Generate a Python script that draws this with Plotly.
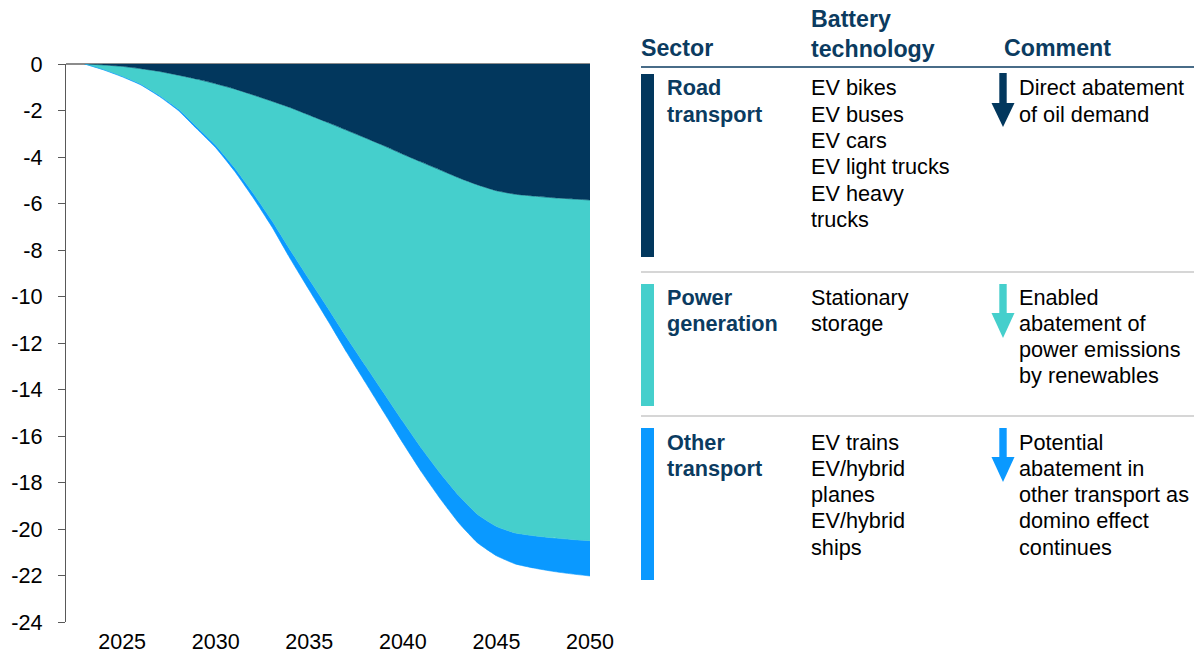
import plotly.graph_objects as go

# ---------------- data ----------------
years = list(range(2023, 2051))
road_transport = [0, -0.04, -0.10, -0.20, -0.32, -0.48, -0.65, -0.85, -1.07, -1.33,
                  -1.60, -1.88, -2.20, -2.52, -2.85, -3.18, -3.52, -3.88, -4.22, -4.56,
                  -4.90, -5.20, -5.45, -5.60, -5.68, -5.75, -5.80, -5.85]
power_generation = [0, -0.20, -0.43, -0.67, -1.03, -1.45, -2.06, -2.64, -3.38, -4.22,
                    -5.13, -6.14, -7.07, -7.98, -8.91, -9.79, -10.65, -11.49, -12.31, -13.04,
                    -13.67, -14.18, -14.44, -14.57, -14.61, -14.63, -14.65, -14.65]
other_transport = [0, -0.01, -0.02, -0.03, -0.05, -0.07, -0.09, -0.11, -0.15, -0.20,
                   -0.27, -0.38, -0.46, -0.55, -0.64, -0.73, -0.83, -0.93, -1.02, -1.10,
                   -1.18, -1.22, -1.26, -1.33, -1.39, -1.44, -1.48, -1.52]
x_ticks = [2025, 2030, 2035, 2040, 2045, 2050]
y_ticks = list(range(-24, 1, 2))
y_tick_labels = [str(v) for v in y_ticks]

headers = ["Sector", "Battery<br>technology", "Comment"]
sectors = ["Road<br>transport", "Power<br>generation", "Other<br>transport"]
technologies = [["EV bikes", "EV buses", "EV cars", "EV light trucks", "EV heavy", "trucks"],
                ["Stationary", "storage"],
                ["EV trains", "EV/hybrid", "planes", "EV/hybrid", "ships"]]
comments = [["Direct abatement", "of oil demand"],
            ["Enabled", "abatement of", "power emissions", "by renewables"],
            ["Potential", "abatement in", "other transport as", "domino effect", "continues"]]

NAVY = "#02375D"
TURQ = "#45CFCC"
BLUE = "#0A99FF"
HEAD = "#0B3B60"
colors = [NAVY, TURQ, BLUE]

# ---------------- figure ----------------
W, H = 1194, 654
L, R, T, B = 66, 590, 64, 622

fig = go.Figure()
for name, vals, col in [("Road transport", road_transport, NAVY),
                        ("Power generation", power_generation, TURQ),
                        ("Other transport", other_transport, BLUE)]:
    fig.add_trace(go.Scatter(x=years, y=vals, name=name, stackgroup="one",
                             mode="lines", line=dict(width=0.6, color=col, shape="spline", smoothing=0.4),
                             fillcolor=col, hoverinfo="x+y+name"))


def px(x, y):
    return (x - L) / (R - L), (B - y) / (B - T)


anns = []
shapes = []
FONT = "Liberation Sans, Arial, sans-serif"


def text(x, y, s, bold=False, color="black", size=21.7):
    xx, yy = px(x, y)
    anns.append(dict(x=xx, y=yy, xref="paper", yref="paper", text=("<b>%s</b>" % s) if bold else s,
                     showarrow=False, xanchor="left", yanchor="middle", align="left",
                     font=dict(family=FONT, size=size, color=color)))


# headers
text(639, 48, headers[0], bold=True, color=HEAD, size=23.2)
text(809, 34, headers[1], bold=True, color=HEAD, size=23.2)
text(1002, 48, headers[2], bold=True, color=HEAD, size=23.2)


def rect(x0, y0, x1, y1, col):
    a, b = px(x0, y0)
    c, d = px(x1, y1)
    shapes.append(dict(type="rect", xref="paper", yref="paper", x0=a, x1=c, y0=b, y1=d,
                       fillcolor=col, line=dict(width=0), layer="above"))


def hline(x0, x1, y, col, w):
    a, b = px(x0, y)
    c, _ = px(x1, y)
    shapes.append(dict(type="line", xref="paper", yref="paper", x0=a, x1=c, y0=b, y1=b,
                       line=dict(color=col, width=w)))


def arrow(xc, ytop, yhead, ytip, col):
    rect(xc - 3.7, ytop, xc + 3.7, yhead + 1, col)
    p1 = px(xc - 11.5, yhead)
    p2 = px(xc + 11.5, yhead)
    p3 = px(xc, ytip)
    path = "M %f %f L %f %f L %f %f Z" % (p1[0], p1[1], p2[0], p2[1], p3[0], p3[1])
    shapes.append(dict(type="path", xref="paper", yref="paper", path=path,
                       fillcolor=col, line=dict(width=0), layer="above"))


hline(641, 1194, 67, HEAD, 1.5)
hline(641, 1194, 272, "#C8C8C8", 1.5)
hline(641, 1194, 416, "#C8C8C8", 1.5)

row_top = [88, 297, 442]
bars = [(74, 257), (284, 406), (428, 580)]
arrows = [(73, 103, 127), (284, 313, 338), (428, 457, 482)]
step = 26.3
for i in range(3):
    rect(641, bars[i][0], 654, bars[i][1], colors[i])
    sec = sectors[i].split("<br>")
    for k, s in enumerate(sec):
        text(665, row_top[i] + k * step, s, bold=True, color=HEAD)
    for k, s in enumerate(technologies[i]):
        text(809, row_top[i] + k * step, s)
    for k, s in enumerate(comments[i]):
        text(1017, row_top[i] + k * step, s)
    arrow(1003, arrows[i][0], arrows[i][1], arrows[i][2], colors[i])

fig.update_layout(
    width=W, height=H, autosize=False,
    margin=dict(l=L, r=W - R, t=T, b=H - B, pad=0),
    paper_bgcolor="white", plot_bgcolor="white",
    showlegend=False,
    annotations=anns, shapes=shapes,
    font=dict(family=FONT, size=21.7, color="black"),
    xaxis=dict(range=[2022, 2050], tickvals=x_ticks, showgrid=False, zeroline=False,
               showline=False, ticks="", tickfont=dict(size=21.5, color="black"),
               ticklabelstandoff=4, automargin=False, fixedrange=True),
    yaxis=dict(range=[-24, 0], tickvals=y_ticks, ticktext=y_tick_labels, showgrid=False, zeroline=True,
               zerolinecolor="#8C8C8C", zerolinewidth=1.5,
               showline=True, linecolor="#595959", linewidth=1.2,
               ticks="outside", ticklen=7, tickcolor="#595959",
               tickfont=dict(size=21.7, color="black"), ticklabelstandoff=11,
               automargin=False, fixedrange=True),
)

fig.write_html("out.html", config={"responsive": False, "displayModeBar": False},
               post_script="document.body.style.margin='0';document.body.style.overflow='hidden';")
